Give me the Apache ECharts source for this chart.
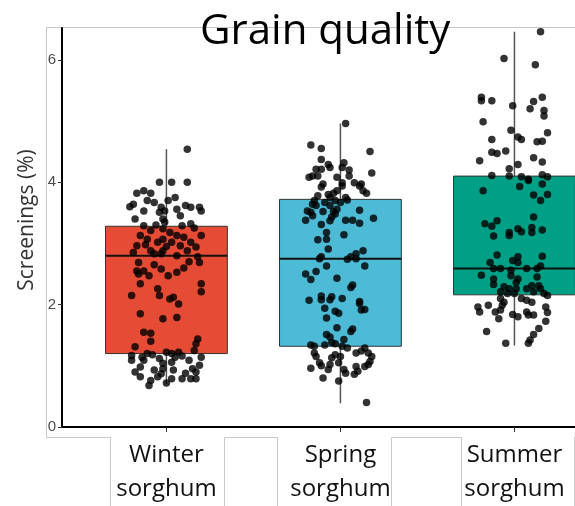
<!DOCTYPE html>
<html>
<head>
<meta charset="utf-8">
<script src="https://cdn.jsdelivr.net/npm/echarts@6/dist/echarts.min.js"></script>
<style>html,body{margin:0;padding:0;background:#fff}#c{width:575px;height:506px}</style>
</head>
<body>
<div id="c"></div>
<script>
// ---- data ----
var categories = ['Winter\nsorghum', 'Spring\nsorghum', 'Summer\nsorghum'];
var boxColors = ['#E64B35', '#4DBBD5', '#00A087'];
var q1Values = [1.20, 1.32, 2.16];
var medianValues = [2.80, 2.75, 2.59];
var q3Values = [3.28, 3.72, 4.10];
var lowerWhisker = [0.70, 0.39, 1.33];
var upperWhisker = [4.54, 4.96, 6.46];
var yTicks = [0, 2, 4, 6];

// jittered observations: [horizontal jitter offset, screenings %]
var winterPoints = [[0.12,4.54],[-0.04,4.0],[0.03,4.0],[0.12,4.0],[-0.13,3.86],[-0.17,3.82],[-0.09,3.82],[0.05,3.75],[-0.19,3.64],[-0.11,3.70],[-0.07,3.67],[-0.03,3.59],[0.06,3.56],[0.11,3.62],[0.14,3.59],[0.19,3.59],[0.20,3.53],[-0.13,3.53],[-0.04,3.51],[-0.01,3.53],[-0.02,3.40],[-0.01,3.35],[-0.13,3.29],[-0.02,3.24],[0.09,3.29],[0.14,3.32],[-0.09,3.21],[0.02,3.18],[0.06,3.13],[0.20,3.13],[-0.15,3.13],[-0.17,2.96],[-0.11,3.07],[-0.05,3.02],[-0.02,3.07],[0.03,3.02],[0.08,2.96],[0.14,3.02],[0.17,2.94],[-0.09,2.88],[-0.02,2.88],[0.12,2.88],[-0.07,2.83],[-0.03,2.83],[0.06,2.80],[-0.16,2.69],[-0.07,2.65],[0.13,2.70],[0.19,2.69],[-0.17,2.55],[-0.13,2.55],[-0.16,2.50],[-0.10,2.47],[-0.03,2.58],[0.01,2.47],[0.06,2.53],[-0.15,2.34],[0.20,2.34],[0.20,2.21],[-0.05,2.26],[-0.04,2.15],[-0.20,2.15],[0.02,2.09],[0.04,2.12],[0.07,2.01],[-0.15,1.85],[-0.02,1.77],[0.06,1.79],[-0.13,1.55],[-0.09,1.53],[-0.09,1.40],[0.18,1.44],[0.17,1.36],[0.16,1.25],[-0.18,1.31],[0,1.22],[0.03,1.20],[0.07,1.22],[0.05,1.14],[-0.20,1.17],[-0.20,1.09],[-0.14,1.14],[-0.13,1.09],[-0.15,0.98],[-0.04,1.12],[-0.02,1.04],[-0.02,0.95],[0.03,1.06],[0.04,0.93],[0.13,1.09],[0.15,0.95],[0.17,0.90],[0.14,0.79],[0.17,0.79],[0.19,1.01],[0.20,1.14],[-0.15,0.82],[-0.07,0.93],[-0.03,0.87],[-0.05,0.82],[-0.09,0.76],[-0.10,0.68],[0.03,0.79],[0.09,0.79],[-0.21,3.60],[-0.18,3.40],[0.01,3.70],[0.08,3.45],[0.16,3.25],[-0.06,3.30],[0.10,3.10],[-0.12,2.98],[0.00,2.95],[0.18,2.78],[-0.19,2.85],[0.10,2.60],[-0.08,1.18],[0.09,1.16],[-0.11,1.20],[0.11,0.88],[-0.18,0.90],[0.00,0.72]];
var springPoints = [[0.03,4.96],[-0.17,4.61],[-0.11,4.55],[0.17,4.50],[-0.11,4.37],[-0.07,4.29],[-0.06,4.24],[0.02,4.32],[0.01,4.24],[-0.14,4.21],[-0.11,4.21],[0.05,4.20],[0.18,4.15],[-0.18,4.08],[-0.16,4.10],[-0.13,4.10],[-0.02,4.08],[0.05,4.10],[-0.10,3.97],[-0.11,3.92],[0.01,3.99],[0.01,3.94],[0.08,3.99],[0.11,3.94],[0.12,3.97],[-0.02,3.86],[-0.04,3.82],[0.13,3.86],[0.15,3.82],[-0.13,3.78],[-0.07,3.80],[-0.06,3.75],[0.03,3.75],[0.04,3.71],[-0.15,3.70],[-0.16,3.64],[-0.14,3.62],[-0.03,3.70],[0,3.67],[-0.09,3.67],[-0.06,3.62],[-0.19,3.53],[-0.17,3.51],[-0.10,3.52],[-0.04,3.52],[-0.02,3.56],[0.11,3.54],[-0.20,3.38],[-0.16,3.45],[-0.05,3.43],[-0.06,3.37],[-0.03,3.48],[0.03,3.38],[0.07,3.38],[0.11,3.33],[0.19,3.41],[-0.11,3.31],[0.02,3.14],[-0.08,3.18],[-0.08,3.07],[-0.13,3.06],[-0.07,2.91],[0.09,2.83],[0.13,2.88],[-0.11,2.78],[0.06,2.78],[-0.12,2.75],[0.04,2.74],[0.09,2.75],[-0.08,2.63],[0.14,2.63],[-0.20,2.50],[-0.17,2.41],[-0.14,2.54],[-0.02,2.43],[0.06,2.28],[0.07,2.32],[-0.18,2.07],[-0.11,2.08],[-0.11,2.14],[-0.06,2.08],[-0.05,2.13],[0.01,2.10],[0.11,2.05],[0.11,2.02],[-0.09,1.94],[-0.03,1.89],[-0.01,1.86],[0.12,1.91],[0.14,1.92],[-0.08,1.78],[-0.02,1.62],[0.06,1.56],[0.07,1.60],[-0.08,1.51],[-0.06,1.47],[0.02,1.43],[-0.05,1.38],[-0.03,1.36],[-0.17,1.34],[-0.15,1.32],[-0.09,1.34],[0.01,1.32],[0.04,1.29],[0.09,1.21],[0.14,1.29],[-0.15,1.21],[-0.14,1.15],[-0.03,1.18],[0,1.15],[-0.05,1.13],[0.12,1.24],[0.16,1.21],[0.18,1.15],[0.17,1.07],[0.16,1.02],[0.14,0.99],[-0.12,1.05],[-0.11,1.00],[-0.17,0.96],[-0.06,1.02],[-0.07,0.94],[-0.01,1.05],[0.02,0.94],[0.03,0.88],[0.09,0.99],[0.08,0.86],[0.10,0.91],[-0.10,0.80],[-0.01,0.75],[0.15,0.40]];
var summerPoints = [[0.15,6.46],[-0.06,6.02],[0.12,5.92],[-0.19,5.39],[-0.19,5.33],[-0.13,5.33],[0.16,5.39],[0.11,5.32],[0.09,5.20],[-0.01,5.25],[0.17,5.17],[0.17,5.08],[-0.18,4.99],[-0.02,4.85],[0.19,4.81],[0.02,4.74],[0.04,4.70],[-0.13,4.70],[0.13,4.66],[0.16,4.67],[-0.13,4.49],[-0.10,4.47],[-0.05,4.51],[0.11,4.40],[-0.20,4.35],[0.16,4.33],[0.02,4.29],[-0.03,4.22],[-0.13,4.11],[-0.03,4.10],[0.04,4.09],[0.08,4.05],[0.16,4.12],[0.19,4.09],[0.03,3.93],[0.08,4.03],[0.16,3.97],[-0.18,3.86],[0.11,3.79],[0.15,3.70],[0.19,3.80],[0.11,3.43],[-0.17,3.32],[-0.13,3.28],[-0.10,3.37],[-0.12,3.12],[-0.03,3.18],[-0.03,3.13],[0.02,3.24],[0.04,3.19],[0.10,3.26],[0.10,3.18],[0.16,3.22],[-0.10,2.81],[-0.14,2.69],[-0.01,2.72],[0.02,2.78],[0.02,2.69],[0.16,2.79],[-0.12,2.59],[-0.08,2.59],[-0.02,2.56],[0.07,2.59],[0.13,2.59],[0.15,2.63],[-0.19,2.48],[-0.12,2.42],[-0.12,2.33],[-0.02,2.47],[0.02,2.42],[0.01,2.36],[0.13,2.45],[-0.06,2.29],[-0.03,2.26],[-0.08,2.21],[-0.04,2.18],[0.01,2.26],[0,2.18],[0.07,2.26],[0.10,2.31],[0.14,2.31],[0.15,2.26],[0.11,2.21],[0.17,2.18],[0.19,2.15],[-0.08,2.10],[-0.06,2.04],[-0.07,1.99],[0.04,2.10],[0.07,2.07],[0.10,2.04],[-0.21,1.96],[-0.20,1.88],[-0.15,1.99],[-0.11,1.88],[-0.08,1.91],[-0.09,1.77],[-0.01,1.84],[0.02,1.80],[0.07,1.88],[0.08,1.83],[0.11,1.83],[0.18,1.96],[0.19,1.87],[0.18,1.73],[0.14,1.61],[0.11,1.51],[-0.16,1.56],[-0.05,1.37],[0.08,1.37],[0.09,1.42]];

// ---- build ----
var groups = [winterPoints, springPoints, summerPoints];
var scatterData = [];
groups.forEach(function (pts, gi) {
  pts.forEach(function (p) { scatterData.push([gi + 1 + p[0], p[1]]); });
});
var boxData = categories.map(function (c, i) {
  return [i + 1, lowerWhisker[i], q1Values[i], medianValues[i], q3Values[i], upperWhisker[i]];
});
var BOX_HALF = 0.35;

var chart = echarts.init(document.getElementById('c'), null, {renderer: 'canvas'});
var frame = '#c8c8c8';
chart.setOption({
  animation: false,
  backgroundColor: '#fff',
  title: {
    text: 'Grain quality',
    left: 200, top: 11,
    padding: 0,
    z: 10,
    textStyle: {fontFamily: 'Open Sans', fontSize: 42, fontWeight: 'normal', color: '#000'}
  },
  // the original panel is cropped on the right: the x range is cut at 3.35
  grid: {left: 62, top: 28, right: 0, height: 401, containLabel: false},
  xAxis: {
    type: 'value', min: 0.4, max: 3.348,
    splitLine: {show: false},
    axisLine: {show: true, onZero: false, lineStyle: {color: '#000', width: 2}},
    axisTick: {show: true, length: 5, customValues: [1, 2, 3], lineStyle: {color: '#333', width: 1}},
    axisLabel: {
      show: true, customValues: [1, 2, 3], margin: 11,
      fontFamily: 'Open Sans', fontSize: 24, lineHeight: 34, color: '#111',
      formatter: function (v) { return categories[Math.round(v) - 1] || ''; }
    }
  },
  yAxis: {
    type: 'value', min: 0, max: 6.52,
    splitLine: {show: false},
    axisLine: {show: true, onZero: false, lineStyle: {color: '#000', width: 2}},
    axisTick: {show: true, length: 4, customValues: yTicks, lineStyle: {color: '#333', width: 1}},
    axisLabel: {customValues: yTicks, margin: 6, fontFamily: 'Liberation Sans', fontSize: 15, color: '#4d4d4d'}
  },
  series: [
    {
      type: 'custom',
      z: 2,
      data: boxData,
      encode: {x: 0, y: [1, 2, 3, 4, 5]},
      renderItem: function (params, api) {
        var x = api.value(0), lo = api.value(1), q1 = api.value(2), md = api.value(3), q3 = api.value(4), hi = api.value(5);
        var pLo = api.coord([x, lo]), pHi = api.coord([x, hi]);
        var tl = api.coord([x - BOX_HALF, q3]), br = api.coord([x + BOX_HALF, q1]);
        var mL = api.coord([x - BOX_HALF, md]), mR = api.coord([x + BOX_HALF, md]);
        return {
          type: 'group',
          children: [
            {type: 'line', shape: {x1: pLo[0], y1: pLo[1], x2: pHi[0], y2: pHi[1]}, style: {stroke: '#555', lineWidth: 1.5}},
            {type: 'rect', shape: {x: tl[0], y: tl[1], width: br[0] - tl[0], height: br[1] - tl[1]},
              style: {fill: boxColors[params.dataIndex], stroke: '#333', lineWidth: 1}},
            {type: 'line', shape: {x1: mL[0], y1: mL[1], x2: mR[0], y2: mR[1]}, style: {stroke: '#111', lineWidth: 2}}
          ]
        };
      }
    },
    {
      type: 'scatter', z: 3,
      symbol: 'circle', symbolSize: 7.5,
      itemStyle: {color: '#000'},
      data: scatterData
    }
  ],
  graphic: [
    {type: 'text', z: 10, x: 27, y: 220, rotation: Math.PI / 2,
      style: {text: 'Screenings (%)', fontFamily: 'Open Sans', fontSize: 21, fill: '#333', align: 'center', verticalAlign: 'middle'}},
    {type: 'line', z: -1, shape: {x1: 46, y1: 27.5, x2: 575, y2: 27.5}, style: {stroke: frame, lineWidth: 1}},
    {type: 'line', z: -1, shape: {x1: 46.5, y1: 27, x2: 46.5, y2: 437}, style: {stroke: frame, lineWidth: 1}},
    {type: 'line', shape: {x1: 46, y1: 437.5, x2: 110, y2: 437.5}, style: {stroke: frame, lineWidth: 1}},
    {type: 'line', shape: {x1: 110.5, y1: 437, x2: 110.5, y2: 506}, style: {stroke: frame, lineWidth: 1}},
    {type: 'rect', shape: {x: 224.5, y: 437.5, width: 53, height: 80}, style: {fill: '#fff', stroke: frame, lineWidth: 1}},
    {type: 'rect', shape: {x: 391.5, y: 437.5, width: 70, height: 80}, style: {fill: '#fff', stroke: frame, lineWidth: 1}},
    {type: 'line', shape: {x1: 574.5, y1: 437, x2: 574.5, y2: 506}, style: {stroke: frame, lineWidth: 1}}
  ]
});
</script>
</body>
</html>
